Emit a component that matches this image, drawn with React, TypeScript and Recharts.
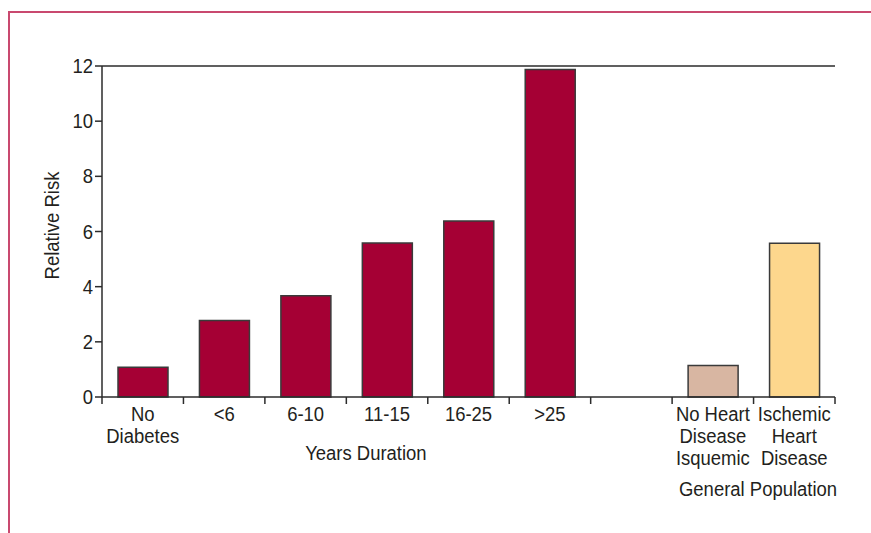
import React from 'react';
import { BarChart, Bar, XAxis, YAxis, Cell, ReferenceLine } from 'recharts';

// categories (use \n for line breaks in the axis labels)
const categories = [
  'No\nDiabetes',
  '<6',
  '6-10',
  '11-15',
  '16-25',
  '>25',
  '',
  'No Heart\nDisease\nIsquemic',
  'Ischemic\nHeart\nDisease',
];
const relativeRisk: (number | null)[] = [1.08, 2.77, 3.67, 5.58, 6.38, 11.87, null, 1.14, 5.57];
const yTicks = [0, 2, 4, 6, 8, 10, 12];
const groupLabels = ['Years Duration', 'General Population'];

const barColors = ['#a50034', '#a50034', '#a50034', '#a50034', '#a50034', '#a50034', '#a50034', '#d8b6a2', '#fdd78d'];

// no condensed Helvetica available, so squeeze Liberation Sans horizontally
const FONT = '"Liberation Sans", Arial, sans-serif';
const SQUEEZE = 0.88;
const TEXT = '#231f20';
const AXIS = '#2b2b2b';

const data = categories.map((name, i) => ({ name, value: relativeRisk[i] }));

const NarrowText = ({ x, y, anchor = 'middle', rotate = 0, size = 21, children, ...rest }: any) => (
  <text
    transform={`translate(${x} ${y}) rotate(${rotate}) scale(${SQUEEZE} 1)`}
    x={0}
    y={0}
    textAnchor={anchor}
    fill={TEXT}
    fontSize={size}
    fontFamily={FONT}
    {...rest}
  >
    {children}
  </text>
);

const XTick = (props: any) => {
  const { x, y, payload, index } = props;
  const half = payload?.offset ?? 733 / 18;
  const lines = String(payload.value).split('\n');
  const axisY = y - 8;
  return (
    <g>
      <line x1={x - half} x2={x - half} y1={axisY} y2={axisY + 7} stroke={AXIS} strokeWidth={1.5} />
      {index === categories.length - 1 && (
        <line x1={x + half} x2={x + half} y1={axisY} y2={axisY + 7} stroke={AXIS} strokeWidth={1.5} />
      )}
      {lines.map((l, i) => (
        <NarrowText key={i} x={x} y={y + 16 + i * 22}>{l}</NarrowText>
      ))}
    </g>
  );
};

const YTick = (props: any) => {
  const { x, y, payload } = props;
  return (
    <NarrowText x={x} y={y + 7} anchor="end">{payload.value}</NarrowText>
  );
};

export default function App() {
  return (
    <div style={{ position: 'absolute', left: 0, top: 0, width: 871, height: 533, background: '#fff', overflow: 'hidden' }}>
      {/* page frame */}
      <div
        style={{
          position: 'absolute',
          left: 8,
          top: 11,
          width: 900,
          height: 600,
          borderLeft: '2px solid #c9496f',
          borderTop: '2px solid #c9496f',
        }}
      />
      <BarChart
        width={871}
        height={533}
        data={data}
        margin={{ top: 66, right: 36, bottom: 106, left: 42 }}
        style={{ position: 'absolute', left: 0, top: 0 }}
      >
        <XAxis
          dataKey="name"
          height={30}
          interval={0}
          tickLine={false}
          axisLine={{ stroke: AXIS, strokeWidth: 1.5 }}
          tick={<XTick />}
          label={{
            content: ({ viewBox }: any) => {
              const { x, y, width } = viewBox;
              return (
                <g>
                  <NarrowText x={x + width * 0.36} y={y + 63}>{groupLabels[0]}</NarrowText>
                  <NarrowText x={x + width * 0.895} y={y + 99}>{groupLabels[1]}</NarrowText>
                </g>
              );
            },
          }}
        />
        <YAxis
          domain={[0, 12]}
          ticks={yTicks}
          width={60}
          interval={0}
          tickSize={7}
          tickMargin={2}
          tickLine={{ stroke: AXIS, strokeWidth: 1.5 }}
          axisLine={{ stroke: AXIS, strokeWidth: 1.5 }}
          tick={<YTick />}
          label={{
            content: ({ viewBox }: any) => {
              const { y, height } = viewBox;
              return (
                <NarrowText x={59} y={y + height / 2 - 6} rotate={-90} size={21}>
                  Relative Risk
                </NarrowText>
              );
            },
          }}
        />
        <YAxis
          yAxisId="right"
          orientation="right"
          domain={[0, 12]}
          width={0}
          tick={false}
          tickLine={false}
          axisLine={{ stroke: AXIS, strokeWidth: 1.5 }}
        />
        <ReferenceLine y={12} stroke={AXIS} strokeWidth={1.5} ifOverflow="extendDomain" />
        <Bar dataKey="value" barSize={50} stroke="#3a3a3a" strokeWidth={1.5} isAnimationActive={false}>
          {data.map((_, i) => (
            <Cell key={i} fill={barColors[i]} />
          ))}
        </Bar>
      </BarChart>
    </div>
  );
}
